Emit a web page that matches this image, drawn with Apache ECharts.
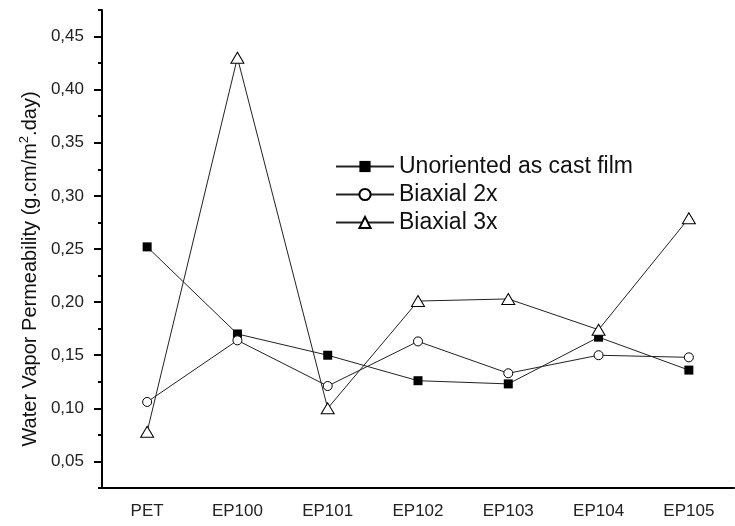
<!DOCTYPE html>
<html>
<head>
<meta charset="utf-8">
<script src="https://cdn.jsdelivr.net/npm/echarts@6/dist/echarts.min.js"></script>
<style>html,body{margin:0;padding:0;background:#fff;}#c{width:735px;height:526px;}</style>
</head>
<body>
<div id="c"></div>
<script>
const categories = ['PET', 'EP100', 'EP101', 'EP102', 'EP103', 'EP104', 'EP105'];
const unoriented = [0.252, 0.170, 0.150, 0.126, 0.123, 0.167, 0.136];
const biaxial2x = [0.106, 0.164, 0.121, 0.163, 0.133, 0.150, 0.148];
const biaxial3x = [0.078, 0.430, 0.100, 0.201, 0.203, 0.174, 0.279];
const yTickLabels = [0.05, 0.10, 0.15, 0.20, 0.25, 0.30, 0.35, 0.40, 0.45];
const seriesNames = ['Unoriented as cast film', 'Biaxial 2x', 'Biaxial 3x'];

const FONT = 'Liberation Sans, Arial, sans-serif';
const chart = echarts.init(document.getElementById('c'), null, {renderer: 'canvas'});

const lineStyle = {color: '#222', width: 1};
const option = {
  animation: false,
  backgroundColor: '#fff',
  grid: {left: 102, right: 1, top: 10, bottom: 38, containLabel: false},
  legend: {
    orient: 'vertical',
    left: 330,
    top: 150,
    itemWidth: 58,
    itemHeight: 14,
    itemGap: 5,
    textStyle: {fontFamily: FONT, fontSize: 23, color: '#111', lineHeight: 23},
    data: seriesNames
  },
  xAxis: [
    {
      type: 'category', data: categories, position: 'bottom', boundaryGap: true,
      axisLine: {lineStyle: {color: '#000', width: 2}},
      axisTick: {alignWithLabel: true, length: 8, lineStyle: {color: '#000', width: 2}},
      axisLabel: {fontFamily: FONT, fontSize: 17, color: '#222', margin: 15},
      splitLine: {show: false}
    },
    {
      type: 'category', data: categories, position: 'bottom', boundaryGap: true,
      axisLine: {show: false},
      axisTick: {alignWithLabel: false, length: 4, lineStyle: {color: '#000', width: 2}},
      axisLabel: {show: false},
      splitLine: {show: false}
    }
  ],
  yAxis: [
    {
      type: 'value', min: 0.025, max: 0.475, position: 'left',
      axisLine: {show: true, lineStyle: {color: '#000', width: 2}},
      axisTick: {show: true, length: 8, customValues: yTickLabels, lineStyle: {color: '#000', width: 2}},
      axisLabel: {
        customValues: yTickLabels,
        fontFamily: FONT, fontSize: 17, color: '#222', margin: 18,
        formatter: v => v.toFixed(2).replace('.', ',')
      },
      splitLine: {show: false},
      name: 'Water Vapor Permeability (g.cm/m{sup|2}.day)',
      nameLocation: 'middle',
      nameGap: 58,
      nameRotate: 90,
      nameTextStyle: {
        fontFamily: FONT, fontSize: 20, color: '#111', padding: [0, 40, 0, 0],
        rich: {sup: {fontFamily: FONT, fontSize: 13, color: '#111', padding: [0, 0, 12, 0], verticalAlign: 'bottom'}}
      }
    },
    {
      type: 'value', min: 0.025, max: 0.475, interval: 0.025, position: 'left',
      axisLine: {show: false},
      axisTick: {show: true, length: 4, lineStyle: {color: '#000', width: 2}},
      axisLabel: {show: false},
      splitLine: {show: false}
    }
  ],
  series: [
    {
      name: seriesNames[0], type: 'line', data: unoriented, xAxisIndex: 0, yAxisIndex: 0,
      symbol: 'rect', symbolSize: 9,
      itemStyle: {color: '#000', borderColor: '#000', borderWidth: 0},
      lineStyle: lineStyle, z: 3
    },
    {
      name: seriesNames[1], type: 'line', data: biaxial2x, xAxisIndex: 0, yAxisIndex: 0,
      symbol: 'circle', symbolSize: 9,
      itemStyle: {color: '#fff', borderColor: '#000', borderWidth: 1},
      lineStyle: lineStyle, z: 4
    },
    {
      name: seriesNames[2], type: 'line', data: biaxial3x, xAxisIndex: 0, yAxisIndex: 0,
      symbol: 'triangle', symbolSize: [13, 11],
      itemStyle: {color: '#fff', borderColor: '#000', borderWidth: 1},
      lineStyle: lineStyle, z: 5
    }
  ]
};
chart.setOption(option);
</script>
</body>
</html>
